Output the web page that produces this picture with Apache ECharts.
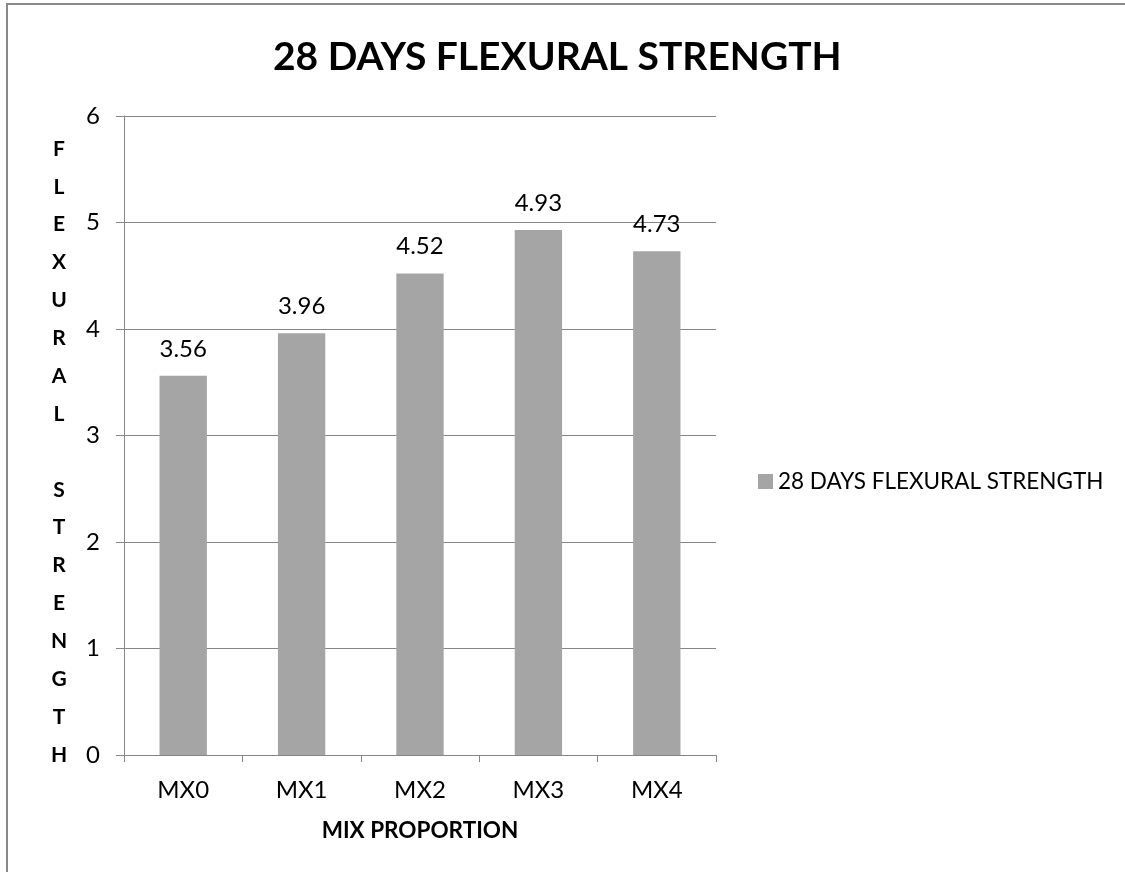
<!DOCTYPE html>
<html>
<head>
<meta charset="utf-8">
<script src="https://cdn.jsdelivr.net/npm/echarts@6/dist/echarts.min.js"></script>
<style>
  html, body { margin: 0; padding: 0; background: #fff; overflow: hidden; }
  #chart { width: 1125px; height: 872px; }
</style>
</head>
<body>
<div id="chart"></div>
<script>
// Mix proportions and their 28-day flexural strength
const categories = ['MX0', 'MX1', 'MX2', 'MX3', 'MX4'];
const strengthValues = [3.56, 3.96, 4.52, 4.93, 4.73];
const seriesName = '28 DAYS FLEXURAL STRENGTH';
const chartTitle = '28 DAYS FLEXURAL STRENGTH';
const xAxisTitle = 'MIX PROPORTION';
const yAxisTitle = 'FLEXURAL STRENGTH';

const FONT = 'Lato, "Open Sans", sans-serif';
const GRID_LEFT = 124, GRID_TOP = 116, GRID_RIGHT = 1125 - 716, GRID_BOTTOM = 872 - 755;

// Vertical stacked letters; the space becomes an empty line
const stackedYTitle = yAxisTitle.split('').join('\n');

const chart = echarts.init(document.getElementById('chart'), null, { renderer: 'canvas' });
chart.setOption({
  backgroundColor: '#ffffff',
  animation: false,
  title: {
    text: chartTitle,
    left: 268,
    top: 33,
    textStyle: { fontFamily: FONT, fontWeight: 'bold', fontSize: 39, color: '#000' }
  },
  legend: {
    orient: 'vertical',
    left: 758,
    top: 470,
    padding: 0,
    itemWidth: 15,
    itemHeight: 15,
    itemGap: 5,
    icon: 'rect',
    textStyle: { fontFamily: FONT, fontSize: 22.5, color: '#000' },
    data: [seriesName]
  },
  grid: { left: GRID_LEFT, top: GRID_TOP, right: GRID_RIGHT, bottom: GRID_BOTTOM, containLabel: false },
  xAxis: {
    type: 'category',
    data: categories,
    name: xAxisTitle,
    nameLocation: 'middle',
    nameGap: 64,
    nameTextStyle: { fontFamily: FONT, fontWeight: 'bold', fontSize: 22.5, color: '#000' },
    axisLine: { lineStyle: { color: '#868686', width: 1 } },
    axisTick: { show: true, length: 7, alignWithLabel: false, lineStyle: { color: '#868686' } },
    axisLabel: { fontFamily: FONT, fontSize: 24, color: '#000', margin: 23 }
  },
  yAxis: {
    type: 'value',
    min: 0,
    max: 6,
    interval: 1,
    axisLine: { show: true, lineStyle: { color: '#868686', width: 1 } },
    axisTick: { show: true, length: 8, lineStyle: { color: '#868686' } },
    axisLabel: { fontFamily: FONT, fontSize: 24, color: '#000', margin: 24 },
    splitLine: { show: true, lineStyle: { color: '#868686', width: 1 } }
  },
  graphic: [
    {
      // outer frame: only the left and top edges fall inside the page
      type: 'polyline',
      shape: { points: [[7, 900], [7, 4], [1140, 4]] },
      style: { fill: 'none', stroke: '#8a8a8a', lineWidth: 2 },
      silent: true,
      z: -10
    },
    {
      type: 'text',
      x: 59,
      y: 130,
      style: {
        text: stackedYTitle,
        fontFamily: FONT,
        fontWeight: 'bold',
        fontSize: 21,
        lineHeight: 37.875,
        fill: '#000',
        align: 'center',
        verticalAlign: 'top'
      }
    }
  ],
  series: [{
    name: seriesName,
    type: 'bar',
    data: strengthValues,
    barWidth: '40%',
    itemStyle: { color: '#a5a5a5' },
    label: {
      show: true,
      position: 'top',
      distance: 15,
      fontFamily: FONT,
      fontSize: 24,
      color: '#000'
    }
  }]
});
</script>
</body>
</html>
